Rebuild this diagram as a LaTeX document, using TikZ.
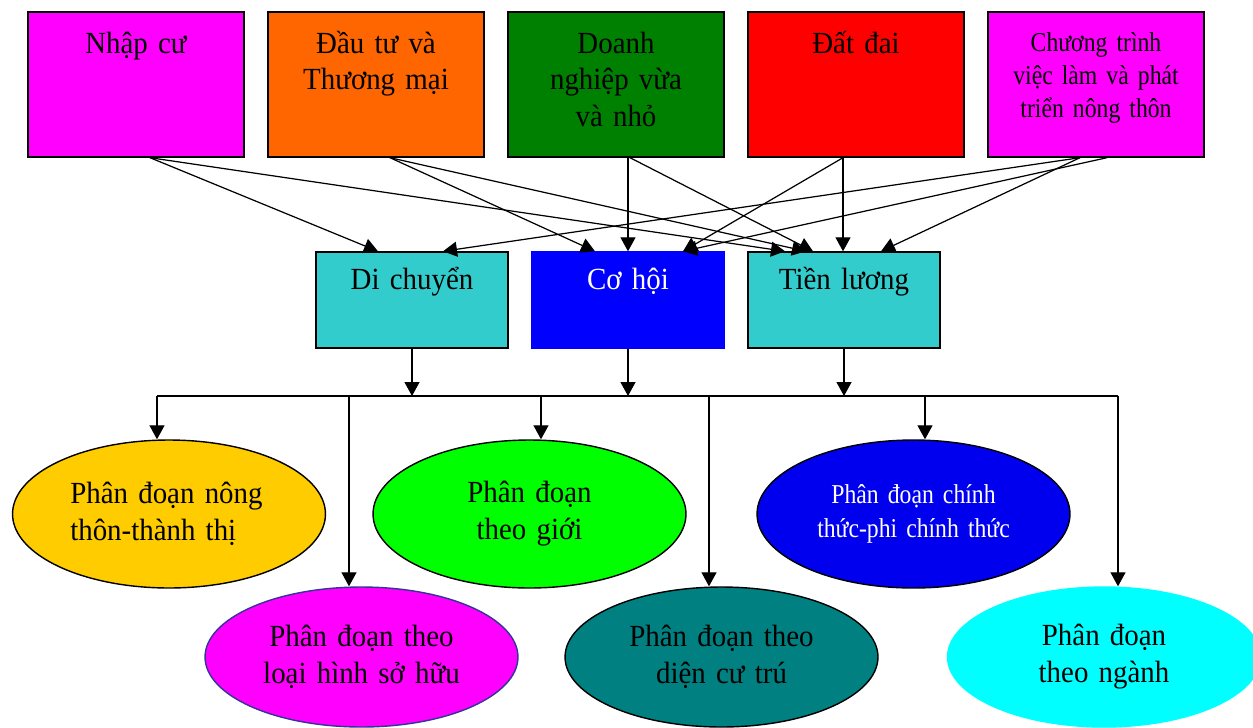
\documentclass[tikz,border=0pt]{standalone}
\usepackage{fontspec}
\setmainfont[FakeStretch=0.94]{Liberation Serif}
\newfontfamily\narrowfont[FakeStretch=0.87]{Liberation Serif}
\usetikzlibrary{arrows.meta,shapes.geometric}
\protected\def\tightwords{\spaceskip=0.17em\relax}

\definecolor{pinkbox}{HTML}{FF00FF}
\definecolor{orangebox}{HTML}{FF6600}
\definecolor{greenbox}{HTML}{008000}
\definecolor{redbox}{HTML}{FF0000}
\definecolor{tealbox}{HTML}{33CCCC}
\definecolor{bluebox}{HTML}{0000FF}
\definecolor{goldseg}{HTML}{FFCC00}
\definecolor{limeseg}{HTML}{00FF00}
\definecolor{blueseg}{HTML}{0000EE}
\definecolor{tealseg}{HTML}{008080}
\definecolor{cyanseg}{HTML}{00FFFF}
\definecolor{purpleline}{HTML}{333399}

\begin{document}
\begin{tikzpicture}[x=0.02cm,y=-0.02cm,
  font=\fontsize{17.5}{21}\selectfont\tightwords,
  topbox/.style={draw, line width=0.8pt, minimum width=4.32cm, inner ysep=0pt,
    text width=4.0cm, align=center, text height=0.82cm, text depth=2.08cm},
  midbox/.style={draw, line width=0.8pt, minimum width=3.84cm, inner ysep=0pt,
    text width=3.6cm, align=center, text height=0.74cm, text depth=1.18cm},
  seg/.style={ellipse, draw, line width=0.8pt, minimum width=6.26cm,
    minimum height=2.96cm, inner sep=0pt, text width=4.1cm, align=center},
  arr/.style={-{Triangle[length=0.28cm,width=0.3cm]}, line width=0.7pt},
  bus/.style={line width=0.7pt}]

\useasboundingbox (0,0) rectangle (1253,727);
\clip (0,0) rectangle (1253,727);

\node (nhap) [topbox, fill=pinkbox] at (136,84.5) {Nhập cư};
\node (dautu) [topbox, fill=orangebox] at (376,84.5) {Đầu tư và\\Thương mại};
\node (doanh) [topbox, fill=greenbox] at (616,84.5) {Doanh\\nghiệp vừa\\và nhỏ};
\node (datdai) [topbox, fill=redbox] at (856,84.5) {Đất đai};
\node (chuong) [topbox, fill=pinkbox, text height=0.78cm, text depth=2.12cm,
  font=\narrowfont\fontsize{15.5}{19}\selectfont\tightwords] at (1096,84.5)
  {Chương trình\\việc làm và phát\\triển nông thôn};

\node (dich) [midbox, fill=tealbox] at (412,300) {Di chuyển};
\node (coho) [midbox, fill=bluebox, draw=bluebox, text=white] at (628,300) {Cơ hội};
\node (tien) [midbox, fill=tealbox] at (844,300) {Tiền lương};

\node (e1) [seg, fill=goldseg, text width=3.95cm, align=left] at (169,514) {Phân đoạn nông\\thôn-thành thị};
\node (e2) [seg, fill=limeseg] at (529.5,514) {Phân đoạn\\theo giới};
\node (e3) [seg, fill=blueseg, text=white,
  font=\narrowfont\fontsize{15.5}{19}\selectfont\tightwords] at (913.5,514) {Phân đoạn chính\\thức-phi chính thức};
\node (e4) [seg, fill=pinkbox, draw=purpleline, minimum height=2.8cm] at (361.5,657) {Phân đoạn theo\\loại hình sở hữu};
\node (e5) [seg, fill=tealseg, minimum height=2.8cm] at (721.5,657) {Phân đoạn theo\\diện cư trú};
\node (e6) [seg, fill=cyanseg, draw=cyanseg, minimum height=2.8cm] at (1104,657) {Phân đoạn\\theo ngành};

\draw[arr] ([xshift=0.28cm]nhap.south) -- ([xshift=-0.68cm]dich.north);
\draw[arr] ([xshift=0.28cm]nhap.south) -- ([xshift=-1.18cm]tien.north);
\draw[arr] ([xshift=0.28cm]dautu.south) -- ([xshift=-0.66cm]coho.north);
\draw[arr] ([xshift=0.28cm]dautu.south) -- ([xshift=-0.76cm]tien.north);
\draw[arr] ([xshift=0.24cm]doanh.south) -- ([xshift=0.24cm]doanh.south |- coho.north);
\draw[arr] ([xshift=0.28cm]doanh.south) -- ([xshift=-0.62cm]tien.north);
\draw[arr] ([xshift=-0.26cm]datdai.south) -- ([xshift=1.1cm]coho.north);
\draw[arr] ([xshift=-0.26cm]datdai.south) -- ([xshift=-0.26cm]datdai.south |- tien.north);
\draw[arr] ([xshift=-0.32cm]chuong.south) -- ([xshift=0.62cm]dich.north);
\draw[arr] ([xshift=0.22cm]chuong.south) -- ([xshift=1.1cm]coho.north);
\draw[arr] ([xshift=-0.32cm]chuong.south) -- ([xshift=0.74cm]tien.north);

\coordinate (busl) at (157,396);
\coordinate (busr) at (1118,396);
\draw[bus] (busl) -- (busr);

\draw[arr] (dich.south) -- (dich.south |- busl);
\draw[arr] (coho.south) -- (coho.south |- busl);
\draw[arr] (tien.south) -- (tien.south |- busl);

\draw[arr] ([xshift=-0.24cm]e1.north |- busl) -- ([xshift=-0.24cm]e1.north);
\draw[arr] ([xshift=-0.25cm]e4.north |- busl) -- ([xshift=-0.25cm]e4.north);
\draw[arr] ([xshift=0.23cm]e2.north |- busl) -- ([xshift=0.23cm]e2.north);
\draw[arr] ([xshift=-0.25cm]e5.north |- busl) -- ([xshift=-0.25cm]e5.north);
\draw[arr] ([xshift=0.23cm]e3.north |- busl) -- ([xshift=0.23cm]e3.north);
\draw[arr] ([xshift=0.28cm]e6.north |- busl) -- ([xshift=0.28cm]e6.north);

\end{tikzpicture}
\end{document}
